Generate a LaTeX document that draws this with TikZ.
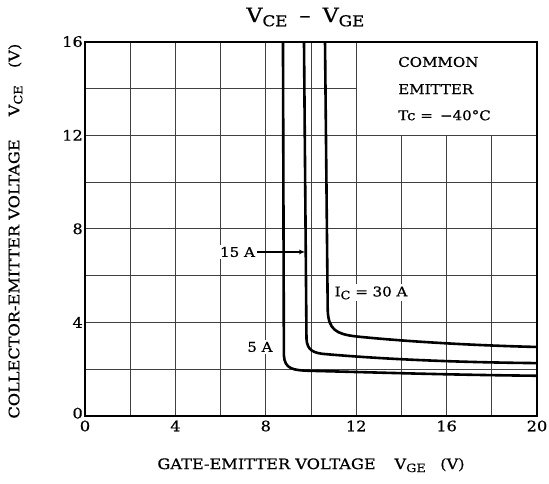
\documentclass[tikz,border=0pt]{standalone}
\usepackage{fontspec}
\setmainfont{DejaVu Serif}[FakeStretch=1.12,FakeBold=0.6]
\usetikzlibrary{arrows}

\newcommand{\lowsub}[1]{\raisebox{-0.4ex}{\fontsize{11.5}{11.5}\selectfont #1}}

\begin{document}
\begin{tikzpicture}[x=22.6bp,y=23.4bp,>=latex',
    grid line/.style={black!75,line width=0.8bp},
    curve/.style={line width=2.6bp,line join=round},
    tick label/.style={font=\fontsize{14.5}{14.5}\selectfont,inner sep=2bp},
    axis label/.style={font=\fontsize{14.5}{14.5}\selectfont},
    note/.style={font=\fontsize{13.5}{13.5}\selectfont,anchor=west,inner sep=0pt},
    tag/.style={font=\fontsize{13.5}{13.5}\selectfont,fill=white,inner sep=2bp}]
  \useasboundingbox (-85bp,-68bp) rectangle (464bp,416bp);

  % grid, with the note box left blank
  \foreach \x in {2,4,...,12}
    \draw[grid line] (\x,0) -- (\x,16);
  \foreach \x in {14,16,18}
    \draw[grid line] (\x,0) -- (\x,12);
  \foreach \y in {2,4,...,12}
    \draw[grid line] (0,\y) -- (20,\y);
  \draw[grid line] (0,14) -- (12,14);
  \draw[line width=2bp] (0,0) rectangle (20,16);

  \foreach \x in {0,4,...,20}
    \node[tick label,below] (x\x) at (\x,-0.1) {\x};
  \foreach \y in {4,8,...,16}
    \node[tick label,left] (y\y) at (0,\y) {\y};
  \node[tick label,left] (y0) at (0,0.12) {0};

  % labels on the curves
  \node[tag] (i15) at (6.75,7.01) {15 A};
  \coordinate (c15) at (9.76,7.01);
  \node[tag] (i5) at (7.74,2.95) {5 A};
  \node[tag,anchor=west] (i30) at (10.95,5.26) {I\lowsub{C} = 30 A};

  % curves
  \draw[curve] (8.76,16) -- (8.8,2.6) .. controls (8.83,2.0) and (9.2,1.95) .. (10,1.93)
    .. controls (13,1.86) and (16,1.76) .. (20,1.72);
  \draw[curve] (9.69,16) -- (9.8,3.3) .. controls (9.83,2.8) and (10.1,2.68) .. (10.7,2.64)
    .. controls (13,2.45) and (16,2.3) .. (20,2.26);
  \draw[curve] (10.62,16) -- (10.74,4.5) .. controls (10.78,3.7) and (11.1,3.5) .. (12,3.4)
    .. controls (14,3.2) and (17,3.02) .. (20,2.95);
  \draw[->,line width=1.3bp] (i15) -- (c15);

  % titles
  \node (title) at (9.75,17.05) {\fontsize{20}{20}\selectfont V\lowsub{\fontsize{15}{15}\selectfont CE}\hspace{0.6em}–\hspace{0.6em}V\lowsub{\fontsize{15}{15}\selectfont GE}};
  \node[axis label] (xlab) at (10.0,-2.1) {GATE-EMITTER VOLTAGE\hspace{1.3em}V\lowsub{GE}\hspace{1em}(V)};
  \node[axis label,rotate=90] (ylab) at (-3.08,7.9) {COLLECTOR-EMITTER VOLTAGE\hspace{1.6em}V\lowsub{CE}\hspace{1.2em}(V)};

  \node[note] (common) at (13.85,15.13) {COMMON};
  \node[note] (emitter) at (13.85,13.97) {EMITTER};
  \node[note] (tc) at (13.85,12.85) {Tc = \,−40°C};
\end{tikzpicture}
\end{document}
